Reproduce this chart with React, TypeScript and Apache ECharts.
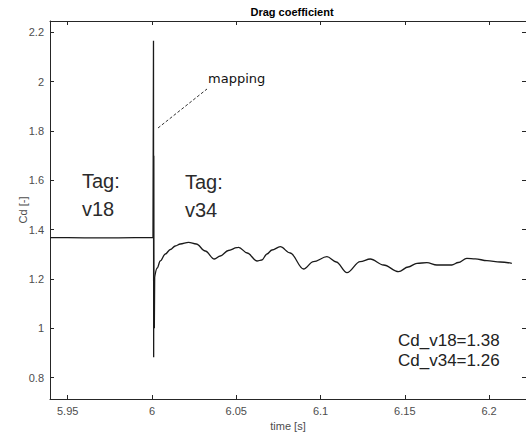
import React, { useEffect, useRef } from "react";
import * as echarts from "echarts";

const title = "Drag coefficient";
const xName = "time [s]";
const yName = "Cd [-]";
const xTicks = [5.95, 6.0, 6.05, 6.1, 6.15, 6.2];
const yTicks = [0.8, 1.0, 1.2, 1.4, 1.6, 1.8, 2.0, 2.2];
const xMin = 5.9395;
const xMax = 6.2219;
const yMin = 0.7136;
const yMax = 2.2458;

// Tag v18 phase plus the mapping spike
const timeV18 = [
  5.9395, 5.95, 5.96, 5.97, 5.98, 5.99, 6.0, 6.0006,
  6.0009, 6.001, 6.0011, 6.0012, 6.0014, 6.0016,
];
const cdV18 = [
  1.368, 1.368, 1.367, 1.367, 1.367, 1.368, 1.368, 1.368,
  2.166, 0.883, 1.7, 1.05, 1.0, 1.209,
];

// Tag v34 phase
const timeV34 = [
  6.0016, 6.0031, 6.0049, 6.0079, 6.0109, 6.0138, 6.0168, 6.0217, 6.0263,
  6.0316, 6.037, 6.0405, 6.0453, 6.0504, 6.0514, 6.0565, 6.0623, 6.0652,
  6.0682, 6.0712, 6.0761, 6.082, 6.0899, 6.0958, 6.1038, 6.1093, 6.1157,
  6.1235, 6.1295, 6.1374, 6.1463, 6.152, 6.1572, 6.1631, 6.169, 6.1779,
  6.1817, 6.1868, 6.1918, 6.1987, 6.2066, 6.2135,
];
const cdV34 = [
  1.209, 1.2446, 1.273, 1.3013, 1.3196, 1.3338, 1.3419, 1.3488, 1.3419,
  1.3135, 1.281, 1.2932, 1.3155, 1.3269, 1.3285, 1.3054, 1.273, 1.277,
  1.3013, 1.3175, 1.3309, 1.3054, 1.2405, 1.2701, 1.2904, 1.2689, 1.2255,
  1.2701, 1.281, 1.2567, 1.2296, 1.2486, 1.2636, 1.266, 1.2567, 1.2567,
  1.2669, 1.2839, 1.2819, 1.2742, 1.2689, 1.2636,
];

const tagLeft = "Tag:\nv18";
const tagRight = "Tag:\nv34";
const mappingLabel = "mapping";
const cdSummary = "Cd_v18=1.38\nCd_v34=1.26";

const FONT = "'Liberation Sans', Arial, Helvetica, sans-serif";
const AXIS_COLOR = "#262626";
const LABEL_COLOR = "#4d4d4d";
const LINE_COLOR = "#1a1a1a";

export default function App() {
  const ref = useRef<HTMLDivElement>(null);

  useEffect(() => {
    if (!ref.current) return;
    const chart = echarts.init(ref.current, undefined, { renderer: "svg" });
    const dataV18 = timeV18.map((t, i) => [t, cdV18[i]]);
    const dataV34 = timeV34.map((t, i) => [t, cdV34[i]]);

    const baseX = {
      type: "value" as const,
      min: xMin,
      max: xMax,
      splitLine: { show: false },
    };
    const baseY = {
      type: "value" as const,
      min: yMin,
      max: yMax,
      splitLine: { show: false },
    };
    const fmt = (v: number) => String(Number(v.toFixed(2)));

    chart.setOption({
      animation: false,
      backgroundColor: "#ffffff",
      title: {
        text: title,
        left: 287,
        top: 1,
        textAlign: "center",
        textStyle: { fontFamily: FONT, fontSize: 11, fontWeight: "bold", color: "#000" },
      },
      grid: { left: 50, right: 0, top: 21, bottom: 40, containLabel: false },
      xAxis: [
        {
          ...baseX,
          position: "bottom",
          name: xName,
          nameLocation: "middle",
          nameGap: 21,
          nameMoveOverlap: false,
          nameTextStyle: { fontFamily: FONT, fontSize: 11, color: LABEL_COLOR },
          axisLine: { show: true, onZero: false, lineStyle: { color: AXIS_COLOR, width: 1 } },
          axisTick: { show: true, inside: true, length: 4, customValues: xTicks, lineStyle: { color: AXIS_COLOR } },
          axisLabel: {
            show: true,
            customValues: xTicks,
            margin: 6,
            fontFamily: FONT,
            fontSize: 11,
            color: LABEL_COLOR,
            formatter: fmt,
          },
        },
        {
          ...baseX,
          position: "top",
          axisLine: { show: true, onZero: false, lineStyle: { color: AXIS_COLOR, width: 1 } },
          axisTick: { show: true, inside: true, length: 4, customValues: xTicks, lineStyle: { color: AXIS_COLOR } },
          axisLabel: { show: false, customValues: xTicks },
        },
      ],
      yAxis: [
        {
          ...baseY,
          position: "left",
          name: yName,
          nameLocation: "middle",
          nameRotate: 90,
          nameGap: 22,
          nameMoveOverlap: false,
          nameTextStyle: { fontFamily: FONT, fontSize: 11, color: LABEL_COLOR },
          axisLine: { show: true, onZero: false, lineStyle: { color: AXIS_COLOR, width: 1 } },
          axisTick: { show: true, inside: true, length: 4, customValues: yTicks, lineStyle: { color: AXIS_COLOR } },
          axisLabel: {
            show: true,
            customValues: yTicks,
            margin: 6,
            fontFamily: FONT,
            fontSize: 11,
            color: LABEL_COLOR,
            formatter: fmt,
          },
        },
        {
          ...baseY,
          position: "right",
          axisLine: { show: false },
          axisTick: { show: true, inside: true, length: 4, customValues: yTicks, lineStyle: { color: AXIS_COLOR } },
          axisLabel: { show: false, customValues: yTicks },
        },
      ],
      series: [
        {
          name: "v18",
          type: "line",
          xAxisIndex: 0,
          yAxisIndex: 0,
          data: dataV18,
          showSymbol: false,
          smooth: false,
          lineStyle: { color: LINE_COLOR, width: 1.3 },
          itemStyle: { color: LINE_COLOR },
        },
        {
          name: "v34",
          type: "line",
          xAxisIndex: 0,
          yAxisIndex: 0,
          data: dataV34,
          showSymbol: false,
          smooth: 0.35,
          smoothMonotone: "x",
          lineStyle: { color: LINE_COLOR, width: 1.3 },
          itemStyle: { color: LINE_COLOR },
        },
      ],
      graphic: [
        {
          type: "text",
          left: 82,
          top: 167,
          style: { text: tagLeft, font: `20px ${FONT}`, lineHeight: 28, fill: "#2b2b2b" },
        },
        {
          type: "text",
          left: 185,
          top: 168,
          style: { text: tagRight, font: `20px ${FONT}`, lineHeight: 28, fill: "#2b2b2b" },
        },
        {
          type: "text",
          left: 208,
          top: 72,
          style: { text: mappingLabel, font: `13px 'DejaVu Sans', ${FONT}`, fill: "#111" },
        },
        {
          type: "line",
          shape: { x1: 158, y1: 128, x2: 207, y2: 89 },
          style: { stroke: "#333", lineWidth: 1, lineDash: [3, 2] },
        },
        {
          type: "text",
          left: 398,
          top: 330,
          style: { text: cdSummary, font: `17px ${FONT}`, lineHeight: 20, fill: "#222" },
        },
      ],
    });

    return () => chart.dispose();
  }, []);

  return (
    <div
      ref={ref}
      style={{ position: "fixed", left: 0, top: 0, width: 526, height: 439, background: "#fff" }}
    />
  );
}
